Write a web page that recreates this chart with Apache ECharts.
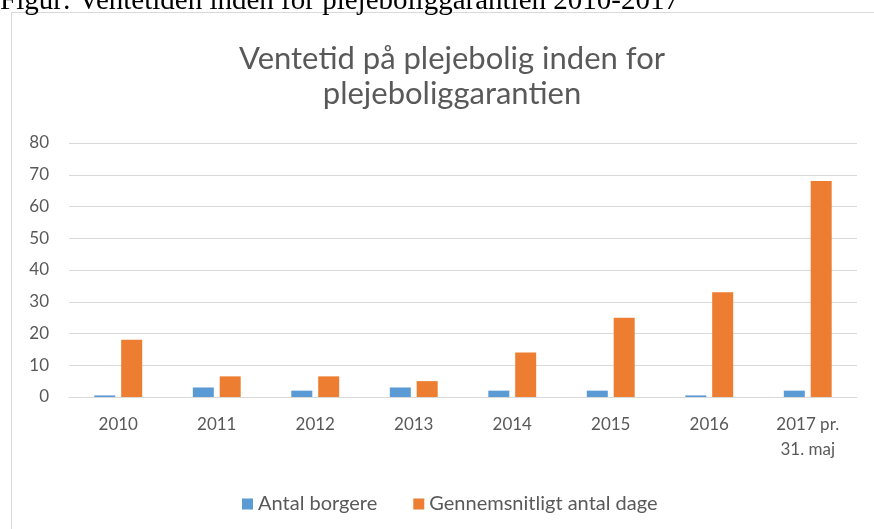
<!DOCTYPE html>
<html>
<head>
<meta charset="utf-8">
<title>Ventetid på plejebolig</title>
<script src="https://cdn.jsdelivr.net/npm/echarts@6/dist/echarts.min.js"></script>
<style>
  html, body { margin: 0; padding: 0; background: #fff; }
  #chart { width: 874px; height: 529px; }
</style>
</head>
<body>
<div id="chart"></div>
<script>
// data
const categories = ['2010', '2011', '2012', '2013', '2014', '2015', '2016', '2017 pr.\n31. maj'];
const antalBorgere = [0.5, 3, 2, 3, 2, 2, 0.5, 2];
const gennemsnitDage = [18, 6.5, 6.5, 5, 14, 25, 33, 68];
const yTicks = [0, 10, 20, 30, 40, 50, 60, 70, 80];

const textGrey = '#595959';
const font = 'Lato, "Open Sans", sans-serif';

const myChart = echarts.init(document.getElementById('chart'));

const option = {
    backgroundColor: '#ffffff',
    animation: false,
    graphic: [
        {
            // chart frame, only left and top edges show in the crop
            type: 'rect',
            shape: { x: 11.5, y: 12.5, width: 1000, height: 800 },
            style: { fill: 'none', stroke: '#d9d9d9', lineWidth: 1 },
            z: -1
        },
        {
            // caption above the frame, cut off at the top
            type: 'text',
            left: 0,
            top: -13,
            style: {
                text: 'Figur: Ventetiden inden for plejeboliggarantien 2010-2017',
                font: '29px "Liberation Serif", "Times New Roman", serif',
                fill: '#000'
            }
        }
    ],
    title: {
        text: 'Ventetid på plejebolig inden for\nplejeboliggarantien',
        left: 447,
        top: 36,
        textAlign: 'center',
        textStyle: {
            color: textGrey,
            fontFamily: font,
            fontWeight: 'normal',
            fontSize: 31,
            lineHeight: 35
        }
    },
    legend: {
        left: 237,
        top: 489,
        icon: 'rect',
        itemWidth: 11,
        itemHeight: 11,
        itemGap: 36,
        textStyle: { color: textGrey, fontFamily: font, fontSize: 20 },
        data: ['Antal borgere', 'Gennemsnitligt antal dage']
    },
    grid: {
        left: 69,
        right: 17,
        top: 143,
        bottom: 132,
        containLabel: false
    },
    xAxis: {
        type: 'category',
        data: categories,
        axisTick: { show: false },
        axisLine: { lineStyle: { color: '#d9d9d9' } },
        axisLabel: {
            color: textGrey,
            fontFamily: font,
            fontSize: 17,
            lineHeight: 25,
            margin: 15
        }
    },
    yAxis: {
        type: 'value',
        min: yTicks[0],
        max: yTicks[yTicks.length - 1],
        interval: 10,
        axisLine: { show: false },
        axisTick: { show: false },
        axisLabel: {
            color: textGrey,
            fontFamily: font,
            fontSize: 17,
            margin: 20
        },
        splitLine: { lineStyle: { color: '#d9d9d9' } }
    },
    series: [
        {
            name: 'Antal borgere',
            type: 'bar',
            data: antalBorgere,
            barWidth: 21,
            barGap: '28%',
            itemStyle: { color: '#5b9bd5' }
        },
        {
            name: 'Gennemsnitligt antal dage',
            type: 'bar',
            data: gennemsnitDage,
            barWidth: 21,
            itemStyle: { color: '#ed7d31' }
        }
    ]
};

myChart.setOption(option);
</script>
</body>
</html>
